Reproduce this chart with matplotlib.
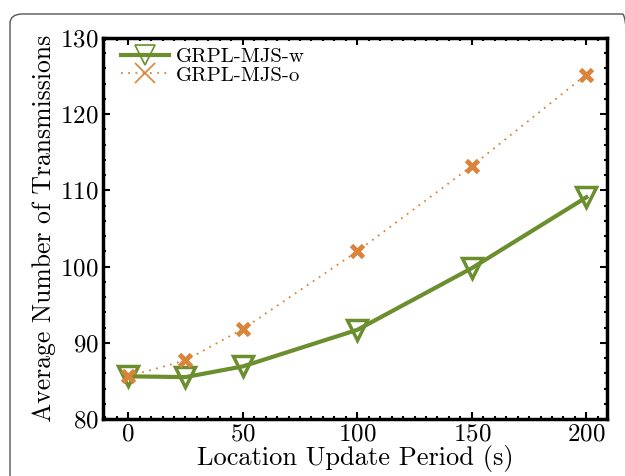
import matplotlib.pyplot as plt
from matplotlib.patches import FancyBboxPatch
from matplotlib.ticker import MultipleLocator

# data
period = [0, 25, 50, 100, 150, 200]
mjs_w = [85.6, 85.5, 86.9, 91.7, 99.8, 109.1]
mjs_o = [85.6, 87.7, 91.8, 102.0, 113.2, 125.2]
series_labels = ['GRPL-MJS-w', 'GRPL-MJS-o']

green = '#6b8e2e'
orange = '#d9843a'

plt.rcParams['font.family'] = 'cmr10'
plt.rcParams['axes.formatter.use_mathtext'] = True

fig = plt.figure(figsize=(6.25, 4.76), dpi=100)

# rounded panel frame, cut off on the right and bottom
frame = FancyBboxPatch((10 / 625, -0.2), 1.0, 1.2 - 14 / 476,
                       boxstyle='round,pad=0,rounding_size=0.02',
                       transform=fig.transFigure, fill=False,
                       edgecolor='#555555', linewidth=1.0, clip_on=False)
fig.patches.append(frame)

ax = fig.add_axes([103 / 625, 1 - 419 / 476, 504 / 625, 381 / 476])

ax.plot(period, mjs_w, color=green, lw=3, marker='v', markersize=15,
        markerfacecolor='none', markeredgewidth=2.5, label=series_labels[0])
ax.plot(period, mjs_o, color=orange, lw=1.3, ls=(0, (1, 3)), marker='x',
        markersize=9, markeredgewidth=3.5, label=series_labels[1])

ax.set_xlim(-11, 209)
ax.set_ylim(80, 130)
ax.set_xticks([0, 50, 100, 150, 200])
ax.set_yticks([80, 90, 100, 110, 120, 130])
ax.xaxis.set_minor_locator(MultipleLocator(5))
ax.yaxis.set_minor_locator(MultipleLocator(2))
ax.tick_params(which='both', direction='in', top=True, right=True,
               labelsize=18, width=1.5)
ax.tick_params(which='major', length=5, pad=3)
ax.tick_params(which='minor', length=2.5)
for s in ax.spines.values():
    s.set_linewidth(2.5)

ax.set_xlabel('Location Update Period (s)', fontsize=19, labelpad=0)
ax.set_ylabel('Average Number of Transmissions', fontsize=18.5, labelpad=3)

leg = ax.legend(loc='upper left', bbox_to_anchor=(0.035, 0.975), fontsize=15,
                frameon=False, handlelength=2.3, borderaxespad=0, borderpad=0,
                labelspacing=0.0, handletextpad=0.35)
for h in leg.legend_handles:
    h.set_markersize(14)
    h.set_markeredgewidth(1.2)

fig.savefig('out.png', dpi=100)
